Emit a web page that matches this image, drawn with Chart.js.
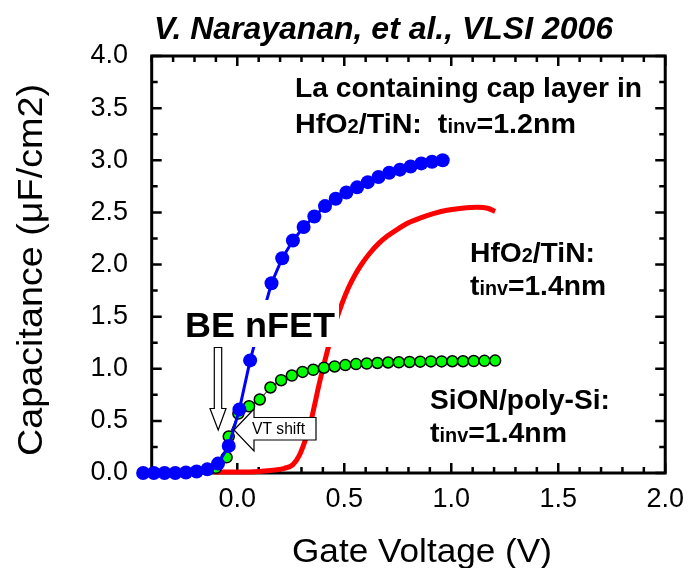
<!DOCTYPE html>
<html>
<head>
<meta charset="utf-8">
<script src="https://cdn.jsdelivr.net/npm/chart.js@4.4.1/dist/chart.umd.min.js"></script>
<style>
  html, body { margin: 0; padding: 0; background: #fff; }
  #wrap { width: 694px; height: 568px; }
</style>
</head>
<body>
<div id="wrap"><canvas id="cv" width="694" height="568"></canvas></div>
<script>
// Gate voltage (V) / capacitance (uF/cm2)
const laCapV = [-0.44, -0.39, -0.34, -0.29, -0.24, -0.19, -0.14, -0.09, -0.04, 0.01,
  0.06, 0.11, 0.16, 0.21, 0.26, 0.31, 0.36, 0.41, 0.46, 0.51,
  0.56, 0.61, 0.66, 0.71, 0.76, 0.81, 0.86, 0.91, 0.96];
const laCapC = [0, 0, 0, 0, 0.005, 0.015, 0.035, 0.09, 0.26, 0.61,
  1.08, 1.46, 1.82, 2.06, 2.23, 2.36, 2.46, 2.56, 2.63, 2.69,
  2.74, 2.79, 2.84, 2.88, 2.91, 2.94, 2.97, 2.985, 3.0];

const hfoV = [-0.11, 0.0, 0.1, 0.18, 0.22, 0.26, 0.29, 0.31, 0.34, 0.36,
  0.38, 0.40, 0.43, 0.46, 0.49, 0.52, 0.55, 0.58, 0.62, 0.66,
  0.70, 0.75, 0.80, 0.86, 0.92, 0.98, 1.05, 1.12, 1.17, 1.205];
const hfoC = [0.01, 0.01, 0.015, 0.03, 0.045, 0.08, 0.17, 0.27, 0.46, 0.64,
  0.83, 1.0, 1.24, 1.45, 1.63, 1.78, 1.90, 2.0, 2.11, 2.2,
  2.27, 2.34, 2.40, 2.45, 2.49, 2.52, 2.54, 2.55, 2.54, 2.51];

const sionV = [-0.1, -0.05, -0.04, 0.005, 0.055, 0.105, 0.155, 0.205, 0.255, 0.305,
  0.355, 0.405, 0.455, 0.505, 0.555, 0.605, 0.655, 0.705, 0.755, 0.805,
  0.855, 0.905, 0.955, 1.005, 1.055, 1.105, 1.155, 1.205];
const sionC = [0.05, 0.15, 0.35, 0.57, 0.64, 0.705, 0.82, 0.89, 0.935, 0.97,
  0.99, 1.01, 1.022, 1.035, 1.045, 1.05, 1.055, 1.06, 1.062, 1.065,
  1.068, 1.07, 1.07, 1.072, 1.072, 1.074, 1.076, 1.078];

const xTickLabels = [0, 0.5, 1.0, 1.5, 2.0];
const yTickLabels = [0, 0.5, 1.0, 1.5, 2.0, 2.5, 3.0, 3.5, 4.0];
const X_FRAME_MIN = -0.4; // left edge of the drawn box; the scale runs a bit further so the first dots show

const FONT = "'Liberation Sans', Arial, sans-serif";

const toPoints = (xs, ys) => xs.map((v, i) => ({ x: v, y: ys[i] }));

// draws text made of pieces (for the small "2" and "inv"), squeezed to a width
function drawRich(ctx, parts, x, y, o) {
  const fontFor = (s) => `${o.style || ''} ${o.weight || 'normal'} ${o.size * s}px ${FONT}`;
  let w = 0;
  parts.forEach(([t, s]) => { ctx.font = fontFor(s); w += ctx.measureText(t).width; });
  const sx = o.width ? o.width / w : 1;
  ctx.save();
  ctx.translate(x, y);
  if (o.rotate) ctx.rotate(o.rotate);
  ctx.scale(sx, 1);
  ctx.fillStyle = '#000';
  ctx.textAlign = 'left';
  ctx.textBaseline = 'alphabetic';
  let cx = o.center ? -w / 2 : 0;
  parts.forEach(([t, s]) => {
    ctx.font = fontFor(s);
    ctx.fillText(t, cx, 0);
    cx += ctx.measureText(t).width;
  });
  ctx.restore();
}

// frame and inward ticks on all four sides
const framePlugin = {
  id: 'frame',
  beforeDatasetsDraw(chart) {
    const { ctx, chartArea: a, scales: { x, y } } = chart;
    const left = x.getPixelForValue(X_FRAME_MIN);
    ctx.save();
    ctx.strokeStyle = '#000';
    ctx.lineWidth = 2.5;
    ctx.beginPath();
    for (let i = 0; i <= 24; i++) {
      const v = X_FRAME_MIN + i * 0.1;
      const len = Math.abs(v * 2 - Math.round(v * 2)) < 1e-6 ? 10 : 6;
      const px = x.getPixelForValue(v);
      ctx.moveTo(px, a.bottom); ctx.lineTo(px, a.bottom - len);
      ctx.moveTo(px, a.top); ctx.lineTo(px, a.top + len);
    }
    for (let i = 0; i <= 16; i++) {
      const v = i * 0.25;
      const len = i % 2 === 0 ? 10 : 6;
      const py = y.getPixelForValue(v);
      ctx.moveTo(left, py); ctx.lineTo(left + len, py);
      ctx.moveTo(a.right, py); ctx.lineTo(a.right - len, py);
    }
    ctx.stroke();
    ctx.lineWidth = 3;
    ctx.strokeRect(left, a.top, a.right - left, a.bottom - a.top);
    ctx.restore();
  }
};

const notesPlugin = {
  id: 'notes',
  afterDatasetsDraw(chart) {
    const { ctx } = chart;
    ctx.save();

    // BE nFET label on a white patch
    ctx.fillStyle = '#fff';
    ctx.fillRect(182, 300, 157, 47);
    drawRich(ctx, [['BE nFET', 1]], 185, 337, { size: 35, weight: 'bold', width: 150 });

    // down arrow
    ctx.beginPath();
    ctx.moveTo(214.3, 347.5);
    ctx.lineTo(221.7, 347.5);
    ctx.lineTo(221.7, 408.5);
    ctx.lineTo(226, 408.5);
    ctx.lineTo(218.2, 430);
    ctx.lineTo(210, 408.5);
    ctx.lineTo(214.3, 408.5);
    ctx.closePath();
    ctx.fillStyle = '#fff';
    ctx.fill();
    ctx.lineWidth = 1.2;
    ctx.strokeStyle = '#000';
    ctx.stroke();

    // VT shift callout arrow
    ctx.beginPath();
    ctx.moveTo(234, 430);
    ctx.lineTo(254, 409);
    ctx.lineTo(254, 417.5);
    ctx.lineTo(316, 417.5);
    ctx.lineTo(316, 440);
    ctx.lineTo(254, 440);
    ctx.lineTo(254, 451);
    ctx.closePath();
    ctx.fill();
    ctx.stroke();
    drawRich(ctx, [['VT shift', 1]], 252, 434, { size: 16, width: 53 });

    // labels
    drawRich(ctx, [['La containing cap layer in', 1]], 295, 97, { size: 28, weight: 'bold', width: 347 });
    drawRich(ctx, [['HfO', 1], ['2', 0.7], ['/TiN:  t', 1], ['inv', 0.7], ['=1.2nm', 1]], 295, 133,
      { size: 28, weight: 'bold', width: 281 });
    drawRich(ctx, [['HfO', 1], ['2', 0.7], ['/TiN:', 1]], 470, 262, { size: 28, weight: 'bold', width: 125 });
    drawRich(ctx, [['t', 1], ['inv', 0.7], ['=1.4nm', 1]], 470, 295, { size: 28, weight: 'bold', width: 136 });
    drawRich(ctx, [['SiON/poly-Si:', 1]], 430, 409, { size: 28, weight: 'bold', width: 180 });
    drawRich(ctx, [['t', 1], ['inv', 0.7], ['=1.4nm', 1]], 430, 442, { size: 28, weight: 'bold', width: 137 });

    ctx.restore();
  },
  afterDraw(chart) {
    const { ctx } = chart;
    drawRich(ctx, [['V. Narayanan, et al., VLSI 2006', 1]], 154, 39,
      { size: 32, weight: 'bold', style: 'italic', width: 459 });
    drawRich(ctx, [['Gate Voltage (V)', 1]], 292, 562, { size: 34, width: 260 });
    drawRich(ctx, [['Capacitance (\u03bcF/cm2)', 1]], 42, 270,
      { size: 35, rotate: -Math.PI / 2, center: true, width: 372 });
  }
};

new Chart(document.getElementById('cv'), {
  type: 'scatter',
  data: {
    datasets: [
      {
        label: 'La cap HfO2/TiN',
        data: toPoints(laCapV, laCapC),
        showLine: true,
        borderColor: '#0000ff',
        backgroundColor: '#0000ff',
        borderWidth: 3,
        pointRadius: 7,
        pointBorderWidth: 0,
        order: 0,
        clip: false
      },
      {
        label: 'SiON/poly-Si',
        data: toPoints(sionV, sionC),
        showLine: true,
        borderColor: '#000',
        borderWidth: 1,
        backgroundColor: '#00ff00',
        pointBackgroundColor: '#00ff00',
        pointBorderColor: '#000',
        pointBorderWidth: 1.5,
        pointRadius: 5.5,
        order: 1,
        clip: false
      },
      {
        label: 'HfO2/TiN',
        data: toPoints(hfoV, hfoC),
        showLine: true,
        borderColor: '#ff0000',
        borderWidth: 5,
        pointRadius: 0,
        cubicInterpolationMode: 'monotone',
        order: 2,
        clip: false
      }
    ]
  },
  options: {
    responsive: false,
    animation: false,
    devicePixelRatio: 1,
    layout: { padding: { top: 56, right: 24, left: 0, bottom: 0 } },
    plugins: {
      legend: { display: false },
      title: { display: false },
      tooltip: { enabled: false }
    },
    scales: {
      x: {
        type: 'linear',
        min: -0.45,
        max: 2.0,
        grid: { display: false, drawTicks: false },
        border: { display: false },
        afterBuildTicks: (s) => { s.ticks = xTickLabels.map((v) => ({ value: v })); },
        afterFit: (s) => { s.height = 95; },
        ticks: {
          padding: 10,
          color: '#000',
          font: { size: 27, family: FONT },
          callback: (v) => Number(v).toFixed(1)
        }
      },
      y: {
        min: 0,
        max: 4,
        grid: { display: false, drawTicks: false },
        border: { display: false },
        afterBuildTicks: (s) => { s.ticks = yTickLabels.map((v) => ({ value: v })); },
        afterFit: (s) => { s.width = 141; },
        ticks: {
          padding: 13,
          color: '#000',
          font: { size: 27, family: FONT },
          callback: (v) => Number(v).toFixed(1)
        }
      }
    }
  },
  plugins: [framePlugin, notesPlugin]
});
</script>
</body>
</html>
